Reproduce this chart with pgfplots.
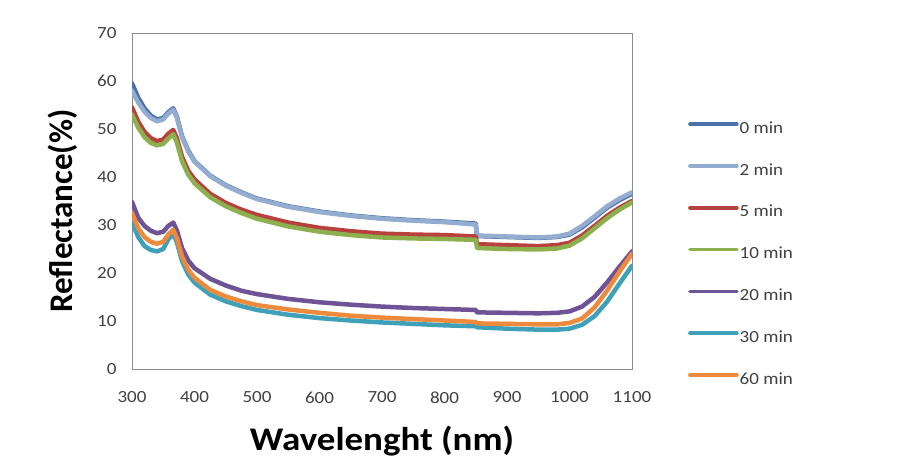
\documentclass[border=0pt]{standalone}
\usepackage{fontspec}
\setmainfont{Carlito}[FakeStretch=1.12]
\newfontfamily\ylabfont{Carlito}
\usepackage{pgfplots}
\usepackage{pgfplotstable}
\pgfplotsset{compat=1.18}
\definecolor{cA}{HTML}{4A72A8}
\definecolor{cB}{HTML}{93ACD0}
\definecolor{cC}{HTML}{B8413E}
\definecolor{cD}{HTML}{8DB04F}
\definecolor{cE}{HTML}{6E5496}
\definecolor{cF}{HTML}{3FA0BA}
\definecolor{cG}{HTML}{EE8A3C}
\definecolor{framegray}{HTML}{8C8C8C}
\definecolor{labelgray}{HTML}{404040}
\pgfplotstableread{
x    s0   s2   s5   s10  s20  s30  s60
300  59.5 58.0 54.5 53.0 34.8 30.5 32.5
310  56.5 55.5 51.5 50.3 31.5 27.5 29.3
320  54.3 53.6 49.4 48.3 29.8 25.6 27.5
330  52.8 52.3 48.1 47.1 28.8 24.8 26.5
340  52.0 51.6 47.5 46.6 28.3 24.5 26.1
350  52.3 52.0 47.8 46.9 28.6 25.0 26.5
358  53.5 53.2 49.0 48.0 29.8 27.0 28.0
366  54.3 54.0 49.8 48.9 30.5 28.2 29.0
372  52.5 52.3 48.0 47.1 28.8 26.3 27.2
380  48.5 48.3 44.2 43.3 25.2 22.5 23.4
390  45.5 45.3 41.3 40.5 22.6 19.7 20.7
400  43.3 43.2 39.5 38.7 21.0 18.0 19.0
425  40.3 40.2 36.5 35.8 18.8 15.5 16.5
450  38.3 38.2 34.6 33.9 17.4 14.1 15.1
475  36.8 36.7 33.2 32.5 16.3 13.1 14.1
500  35.5 35.4 32.1 31.3 15.6 12.3 13.3
550  33.9 33.8 30.5 29.7 14.6 11.3 12.4
600  32.8 32.7 29.4 28.6 13.9 10.6 11.7
650  32.0 31.9 28.7 27.9 13.4 10.1 11.1
700  31.4 31.3 28.2 27.4 13.0 9.7  10.7
750  31.0 30.9 28.0 27.2 12.7 9.4  10.4
800  30.7 30.6 27.9 27.1 12.5 9.1  10.1
850  30.3 30.1 27.6 26.9 12.3 8.9  9.8
852  27.7 27.8 26.0 25.2 11.8 8.7  9.5
900  27.5 27.6 25.8 25.0 11.7 8.4  9.4
950  27.3 27.4 25.6 24.9 11.6 8.2  9.3
980  27.5 27.6 25.8 25.1 11.7 8.2  9.3
1000 28.0 28.2 26.3 25.7 12.0 8.4  9.6
1020 29.5 29.8 27.8 27.2 13.0 9.2  10.5
1040 31.5 31.8 29.8 29.3 15.0 11.0 12.8
1060 33.6 33.9 31.9 31.4 18.0 14.0 16.3
1080 35.2 35.5 33.6 33.2 21.3 17.8 20.3
1100 36.5 36.8 35.0 34.7 24.5 21.5 24.0
}\datatable
\begin{document}
\begin{tikzpicture}[x=1pt,y=1pt]
\useasboundingbox (0,0) rectangle (919,470);
\begin{axis}[
  at={(132pt,101pt)}, anchor=south west,
  scale only axis, width=500pt, height=336pt,
  xmin=300, xmax=1100, ymin=0, ymax=70,
  xtick={300,400,...,1100}, ytick={0,10,...,70},
  major tick length=0pt,
  axis line style={draw=framegray, line width=0.8pt},
  tick label style={font=\fontsize{17}{19}\selectfont, text=labelgray},
  /pgf/number format/assume math mode=true,
  /pgf/number format/1000 sep={},
  xticklabel style={yshift=-19pt},
  yticklabel style={xshift=-12pt},
  xlabel={\textbf{Wavelenght (nm)}},
  ylabel={\ylabfont\bfseries Reflectance(\%)},
  label style={font=\fontsize{33}{38}\selectfont},
  xlabel style={at={(axis description cs:0.5,-0.215)}, anchor=center},
  ylabel style={at={(axis description cs:-0.138,0.47)}, anchor=center},
  legend cell align=left,
  legend image code/.code={\draw[#1, line width=3.5pt] (0pt,5pt) -- (47pt,5pt);},
  legend style={at={(axis description cs:1.112,0.741)}, anchor=north west,
    draw=none, fill=none, inner sep=0pt, row sep=23.8pt,
    font=\fontsize{17}{19}\selectfont, text=labelgray,
    nodes={inner sep=1pt, text height=12pt, text depth=4pt}},
  every axis plot/.append style={line width=4.5pt, line join=round, line cap=round},
]
\addplot[cA] table[x=x, y=s0] {\datatable};
\addplot[cB] table[x=x, y=s2] {\datatable};
\addplot[cC] table[x=x, y=s5] {\datatable};
\addplot[cD] table[x=x, y=s10] {\datatable};
\addplot[cE] table[x=x, y=s20] {\datatable};
\addplot[cF] table[x=x, y=s30] {\datatable};
\addplot[cG] table[x=x, y=s60] {\datatable};
\legend{0 min, 2 min, 5 min, 10 min, 20 min, 30 min, 60 min}
\end{axis}
\end{tikzpicture}
\end{document}
